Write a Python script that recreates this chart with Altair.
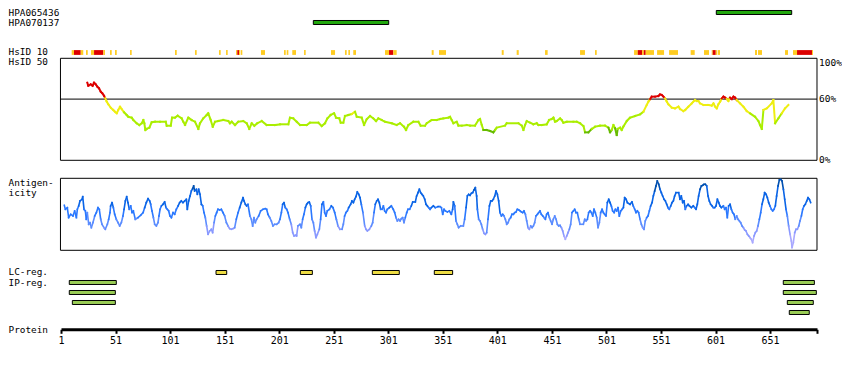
import altair as alt
import pandas as pd

FONT = "DejaVu Sans Mono"
PROTEIN_LEN = 694

# ---------------- data ----------------
tick_values = [1, 51, 101, 151, 201, 251, 301, 351, 401, 451, 501, 551, 601, 651, 694]

antibody_names = ["HPA065436", "HPA070137"]
antibody_start = [601.7, 232.3]
antibody_end = [670.8, 301.4]
antibody_lane = [0, 1]

hs10_start = [10.8, 12.9, 19.1, 23.9, 28.5, 31.3, 39.8, 45.9, 50.5, 64.3, 105.5, 123.8, 145.8, 152.3,
              161.4, 162.6, 164.2, 165.7, 184.3, 205.4, 207.9, 213.0, 223.8, 248.5, 261.3, 264.4, 268.9,
              298.0, 301.7, 305.6, 340.8, 347.5, 405.0, 418.7, 444.7, 476.8, 490.5,
              526.3, 529.7, 533.6, 535.2, 537.0, 547.4, 558.4, 578.2, 590.4,
              597.5, 598.4, 601.2, 603.0, 637.2, 639.9, 664.7, 672.0, 675.7, 689.4]
hs10_end = [12.9, 19.1, 21.4, 25.5, 31.3, 39.8, 41.3, 47.5, 52.1, 65.8, 107.1, 125.4, 147.4, 153.8,
            162.6, 164.2, 165.1, 167.2, 188.0, 207.0, 209.4, 216.4, 225.3, 252.2, 262.9, 265.9, 271.4,
            301.7, 305.6, 308.7, 342.6, 353.9, 406.8, 420.6, 447.1, 481.3, 492.1,
            529.7, 533.6, 535.2, 537.0, 544.6, 553.8, 566.6, 581.9, 595.0,
            598.4, 601.2, 602.4, 605.1, 639.0, 643.6, 667.4, 675.7, 689.4, 690.3]
hs10_level = ["mid", "high", "mid", "mid", "mid", "high", "mid", "mid", "mid", "mid", "mid", "mid", "mid", "mid",
              "mid", "high", "mid", "mid", "mid", "mid", "mid", "mid", "mid", "mid", "mid", "mid", "mid",
              "mid", "high", "mid", "mid", "mid", "mid", "mid", "mid", "mid", "mid",
              "mid", "high", "mid", "high", "mid", "mid", "mid", "mid", "mid",
              "mid", "high", "mid", "mid", "mid", "mid", "mid", "mid", "high", "mid"]

# HsID 50 identity (%) along the protein
id_pos = [25.1, 26.0, 28.2, 30.0, 31.3, 32.8, 34.3, 35.8, 37.4, 38.9, 40.4, 41.6, 42.9, 44.4, 46.6, 48.9, 50.5,
          52.1, 53.5, 55.1, 56.6, 58.8, 61.2, 62.7, 65.8, 67.3, 70.4, 72.8, 75.0, 76.5, 77.4, 78.3, 79.5, 82.0,
          84.1, 87.2, 91.8, 97.0, 97.9, 101.6, 102.8, 105.5, 108.0, 111.6, 113.1, 114.7, 117.7, 120.8, 123.8,
          126.9, 128.4, 131.4, 134.6, 136.0, 138.2, 140.1, 142.2, 145.2, 149.8, 154.4, 155.9, 157.5, 160.5,
          163.5, 168.1, 171.2, 173.6, 175.8, 178.2, 180.9, 185.0, 189.5, 197.2, 201.8, 209.4, 210.9, 213.9,
          217.1, 220.1, 226.2, 229.2, 236.9, 240.0, 243.0, 245.2, 248.2, 251.3, 253.1, 256.1, 257.4, 259.8,
          261.3, 264.4, 267.5, 270.5, 272.1, 276.6, 278.8, 281.2, 284.3, 287.3, 289.8, 291.9, 295.0, 298.0,
          304.2, 308.7, 311.8, 315.4, 317.3, 319.4, 324.0, 328.6, 330.7, 334.7,
          336.2, 339.3, 340.8, 345.4, 348.5, 351.5, 356.1, 357.6, 359.1, 360.7, 363.7, 365.3, 368.3, 372.9,
          376.0, 380.5, 383.6, 385.1, 386.7, 388.2, 391.2, 394.3, 397.3, 398.9, 400.4, 408.0, 409.6, 420.3,
          423.3, 424.9, 426.4, 427.9, 431.0, 434.0, 437.1, 438.6, 441.7, 446.2, 448.4, 450.8, 452.4, 453.9,
          455.4, 458.5, 460.0, 461.5, 464.6, 470.7, 473.7, 476.8, 479.9, 481.4, 484.4, 487.5, 490.6, 495.1,
          499.7, 502.8, 504.3, 505.8, 507.4, 508.9, 510.4, 511.3, 513.5, 515.0, 516.5, 519.6, 522.6, 527.2,
          531.8, 534.9, 537.9, 539.5, 541.0, 542.5, 545.6, 548.6, 550.1, 551.7, 553.2, 554.7, 556.3, 557.8,
          560.9, 563.9, 567.0, 568.5, 571.5, 573.1, 576.1, 579.2, 580.7, 582.2, 583.8, 585.3, 586.8, 589.9,
          594.5, 597.5, 599.1, 600.6, 602.1, 603.6, 605.2, 606.7, 608.2, 609.7, 611.3, 612.8, 614.3, 615.9,
          617.4, 618.9, 620.4, 623.5, 626.5, 629.6, 632.7, 637.2, 640.3, 641.8, 643.4, 644.9, 648.0, 652.5,
          654.0, 655.6, 658.6, 661.7, 664.7, 667.8]
id_val = [76.1, 73.1, 74.5, 73.1, 76.1, 74.5, 72.2, 70.6, 67.3, 65.7, 63.3, 60.8, 57.5, 54.9, 51.6, 49.3, 47.6,
          46.1, 49.3, 52.5, 50.3, 47.1, 44.4, 42.7, 41.8, 39.5, 36.3, 34.6, 36.3, 39.5, 36.3, 29.7, 30.7, 32.0,
          37.3, 37.8, 37.8, 37.8, 33.9, 33.9, 41.8, 41.8, 43.7, 41.1, 37.8, 34.6, 41.8, 39.5, 37.8,
          30.7, 36.3, 41.1, 44.4, 46.1, 39.5, 32.9, 37.8, 38.5, 39.5, 38.5, 36.3, 37.8, 34.6,
          37.8, 38.5, 36.3, 30.7, 36.3, 33.9, 36.3, 38.5, 34.6, 34.6, 35.3, 35.3, 41.8, 41.1,
          37.8, 34.6, 34.6, 36.9, 36.9, 33.6, 36.3, 41.1, 44.4, 46.1, 41.8, 41.1, 36.9, 36.9,
          43.4, 44.4, 45.4, 47.6, 42.7, 41.8, 34.6, 40.2, 43.4, 41.1, 38.5, 41.1, 39.5, 37.8,
          36.3, 34.6, 36.3, 32.9, 29.7, 34.6, 37.8, 37.8, 33.9, 33.9,
          36.3, 38.5, 39.5, 39.5, 40.5, 41.1, 41.8, 42.7, 39.5, 36.3, 37.8, 34.0, 34.0, 34.6,
          34.0, 34.0, 39.5, 40.5, 34.6, 29.7, 29.7, 28.7, 27.4, 29.7, 32.0, 34.0, 36.3, 36.3,
          34.0, 29.7, 34.6, 38.5, 36.9, 35.3, 36.3, 34.6, 34.6, 35.3, 39.5, 40.5, 41.8, 37.8,
          38.5, 41.1, 39.5, 36.9, 37.8, 37.8, 37.8, 36.3, 33.6, 27.4, 27.4, 30.7, 33.0, 34.0,
          34.0, 32.0, 27.4, 29.7, 34.6, 31.4, 24.8, 30.7, 32.0, 29.7, 33.0, 38.5, 41.8, 43.4,
          45.0, 47.6, 54.2, 57.5, 60.1, 62.4, 62.4, 63.0, 64.6, 64.0, 62.4, 60.7, 57.5, 54.9,
          51.6, 50.9, 52.6, 50.3, 48.3, 49.3, 52.6, 55.8, 57.5, 59.1, 58.1, 58.1, 55.8, 54.2,
          54.2, 53.6, 55.8, 52.6, 50.9, 54.9, 57.5, 60.7, 62.4, 61.4, 60.1, 58.1, 61.4, 60.1,
          62.4, 61.4, 59.1, 55.8, 52.6, 48.3, 46.0, 42.7, 38.5, 34.6, 30.7, 49.3, 50.9, 55.8,
          59.1, 36.3, 41.1, 46.0, 50.9, 54.2]

# Antigenicity profile (relative units, 0 = bottom of panel)
ag_pos = [4, 5, 6.8, 8, 9.9, 12, 13.5, 15.1, 16, 17.2, 18.4, 20.3, 20.9, 22.1, 23.3, 24.2, 25.1, 26.4, 27.6,
          28.8, 30.3, 31.9, 33.4, 34.9, 36.1, 37.4, 38.6, 40.4, 41.6, 43.5, 44.7, 45.9, 46.5, 47.8, 49, 50.2,
          51.7, 53.3, 54.8, 56.3, 57.8, 58.8, 60, 61.2, 62.4, 63.6, 64.9, 66.1, 67.3, 69.1, 71.6, 74, 76.2,
          77.7, 79.2, 80.8, 82.3, 83.2, 84.4, 85.7, 86.9, 88.4, 89.9, 90.8, 91.8, 93, 94.5, 96, 97.3, 98.5,
          99.7, 100.9, 102.2, 103.7, 105.2, 106.7, 108.3, 109.8, 111.3, 112.8, 114.4, 115.9, 116.8, 118,
          119.3, 120.5, 121.7, 122.6, 123.5, 125.1, 126, 127.2, 128.4, 129.7, 130.9, 132.1, 133.3, 134.5,
          135.8, 137.3, 138.8, 140, 141.3, 142.5, 143.7, 144.9, 146.5, 148, 149.5, 151, 152.6, 154.1, 155.6,
          157.2, 158.7, 160.2, 161.7, 163.3, 164.8, 166.3, 167.9, 168.8, 170, 171.2, 172.4,
          174.2, 175.5, 176.7, 177.9, 179.1, 180.3, 182.2, 184, 186.2, 188.3, 189.5, 190.7, 192.3, 193.8,
          195.3, 196.8, 198.7, 200.5, 201.7, 203, 204.2, 205.4, 206.6, 207.9, 209.1, 210.6, 212.1, 213.4,
          214.6, 215.8, 217, 218.2, 220.1, 221.3, 222.5, 223.7, 225, 226.2, 227.4, 228.6, 229.9, 231.1,
          232.3, 233.5, 234.7, 236, 237.8, 239, 240.2, 241.5, 242.7, 243.9, 245.1, 247, 248.8, 250.3, 251.9,
          253.4, 254.9, 256.7, 258.6, 259.8, 261, 262.2, 263.5, 264.7, 266.5, 267.7, 269, 270.2, 271.4,
          272.6, 273.9, 275.1, 276.3, 277.8, 279.4, 280.6, 281.8, 283.6, 285.5, 286.7, 287.9, 289.1, 290.4,
          291.6, 292.8, 294, 295.3, 296.5, 297.7, 298.9, 300.1, 302, 303.8, 305.6, 306.9, 308.1, 309.3,
          310.5, 311.8, 313, 314.2, 315.4, 316.6, 317.9, 319.1, 320.6, 322.1, 323.4, 325.8, 327, 328.3,
          329.5, 330.7, 331.9, 333.1, 334.4, 335.6, 336.8, 338, 339.3, 340.5, 342.3, 344.1, 346.6,
          348.4, 349.7, 350.9, 352.1, 353.3, 355.2, 357, 358.8, 360, 360.7, 361.9, 363.1, 364.3, 365.5,
          367.4, 369.8, 371, 372.3, 373.5, 374.7, 375.9, 377.2, 378.4, 379.6, 380.8, 382, 382.7, 383.9,
          385.1, 386.3, 387.5, 388.8, 390, 391.2, 392.4, 393.7, 394.9, 396.1, 397.3, 398.6, 399.8, 401,
          402.2, 403.4, 404.7, 405.9, 407.1, 408.3, 409.6, 410.8, 412, 413.2, 414.4, 415.7, 416.9, 418.1,
          419.3, 420.6, 421.8, 423, 424.2, 425.4, 426.7, 427.9, 429.1, 430.3, 431.6, 432.8, 434, 435.2,
          436.4, 437.7, 438.9, 440.1, 441.3, 442.6, 443.8, 445, 446.2, 447.4, 448.7, 449.9, 451.1, 452.3,
          453.6, 454.8, 456, 457.2, 458.4, 459.7, 460.9, 462.1, 463.3, 464.6, 465.8, 467, 468.2, 469.4,
          470.7, 471.9, 473.1, 474.3, 475.6, 476.8, 479.8, 481.1, 482.3, 483.5, 484.7, 486, 487.2, 488.4,
          489.6, 490.8, 492.1, 493.3, 494.5, 495.7, 497, 498.2, 499.4, 500.6, 501.8, 503.1, 504.3, 505.5,
          506.7, 508, 509.2, 510.4, 511.6, 512.8, 514.1, 515.3, 516.5, 517.7, 519, 520.2,
          522.6, 524.4, 525.6, 526.9, 528.1, 529.3, 530.5, 531.8, 533, 534.2, 535.4, 536.6, 537.9, 539.1,
          540.3, 541.5, 542.8, 544, 545.2, 546.4, 547.6, 548.9, 550.1, 551.3, 552.5, 553.8, 555, 556.2,
          557.4, 558.6, 559.9, 561.1, 562.3, 563.5, 564.8, 567.2, 568.4, 569.6, 570.9, 572.1, 573.3, 574.5,
          575.8, 577, 578.8, 580.6, 581.9, 583.1, 584.3, 585.5, 586.8, 588, 589.2, 590.4, 591.6, 592.9,
          594.1, 595.3, 596.5, 597.8, 599, 600.2, 601.4, 602.7, 603.9, 605.1, 606.3, 608.2, 609.4, 610.6,
          611.8, 613, 614.3, 615.5, 616.7, 617.9, 619.1, 620.4, 621.6, 622.8, 624, 625.3, 626.5, 627.7,
          628.9, 630.2, 631.4, 632.6, 633.8, 635, 636.3, 637.5, 638.7, 639.9, 641.2, 642.4, 643.6, 644.8,
          646, 647.3, 648.5, 649.7, 650.9, 652.2, 653.4, 654.6, 655.8, 657, 658.3, 659.5, 660.7, 661.9,
          663.2, 664.4, 665.6, 666.8, 668, 669.3, 670.5, 671.1, 672.3, 673.6, 674.8, 676, 677.3, 678.4,
          679.7, 680.9, 682.1, 683.3, 684.6, 685.8, 687, 688.2]
ag_val = [67.5, 61.5, 64, 49, 54, 51.5, 59, 49, 61.5, 66.5, 74, 76.5, 80.5, 61.5, 59, 46.5, 56.5, 39, 41.5,
          34, 41.5, 51.5, 56.5, 64, 61.5, 46.5, 39, 34, 31.5, 39, 46.5, 56.5, 66.5, 71.5, 64, 54,
          46.5, 41.5, 36.5, 41.5, 51.5, 61.5, 74, 80.5, 71.5, 61.5, 66.5, 56.5, 59, 46.5, 49, 52.5, 56.5,
          64, 71.5, 77.5, 74, 69, 59, 49, 39, 36.5, 41.5, 51.5, 61.5, 66.5, 69, 72.5, 64, 61.5,
          59, 51.5, 49, 56.5, 54, 61.5, 66.5, 71.5, 74, 71.5, 74, 76.5, 61.5, 74,
          81.5, 89, 92.5, 96.5, 89, 91.5, 84, 91.5, 84, 69, 66.5, 56.5, 49, 36.5,
          24, 29, 31.5, 26.5, 41.5, 51.5, 56.5, 61.5, 60.5, 61.5, 56.5, 51.5, 41.5, 36.5, 32.5,
          31.5, 32.5, 34, 46.5, 56.5, 64, 71.5, 79, 74, 69, 66.5, 69,
          51.5, 46.5, 36.5, 49, 41.5, 46.5, 51.5, 59, 61.5, 62.5, 61.5, 54, 49, 44,
          36.5, 39, 39, 41.5, 46.5, 56.5, 69, 71.5, 64, 61.5, 56.5, 46.5, 39, 26.5,
          21.5, 22.5, 21.5, 36.5, 39, 34, 46.5, 54, 64, 69, 71.5, 72.5, 66.5, 46.5,
          41.5, 29, 19, 24, 31.5, 46.5, 69, 72.5, 56.5, 51.5, 59, 61.5, 66.5, 64, 56.5,
          46.5, 36.5, 31.5, 31.5, 39, 51.5, 56.5, 59, 64, 69, 74, 71.5, 76.5, 80.5,
          87.5, 84, 79, 69, 56.5, 36.5, 31.5, 29, 31.5, 36.5, 41.5, 56.5, 69, 74,
          76.5, 71.5, 61.5, 61.5, 66.5, 59, 56.5, 61.5, 64, 66.5, 61.5, 56.5, 49, 44,
          46.5, 44, 47.5, 49, 41.5, 49, 56.5, 61.5, 61.5, 66.5, 72.5, 72.5, 81.5, 86.5,
          91.5, 86.5, 84, 81.5, 76.5, 69, 66.5, 64, 61.5, 64, 66.5, 64, 65.5,
          65.5, 64, 54, 61.5, 59, 57.5, 59, 54, 61.5, 72.5, 66.5, 44, 39, 34,
          36.5, 36.5, 46.5, 64, 81.5, 84, 82.5, 85.5, 86.5, 90.5, 94, 81.5, 61.5, 46.5,
          44, 39, 31.5, 25.5, 24, 26.5, 46.5, 66.5, 74, 74, 76.5, 81.5, 89, 84,
          74, 56.5, 51.5, 54, 51.5, 46.5, 39, 41.5, 46.5, 49, 54, 54, 56.5, 57.5,
          61.5, 60.5, 59, 57.5, 56.5, 59, 54, 44, 34, 31.5, 36.5, 34, 36.5, 41.5,
          51.5, 54, 56.5, 59, 54, 51.5, 49, 46.5, 54, 56.5, 49, 44, 39, 46.5,
          51.5, 46.5, 39, 36.5, 37.5, 34, 29, 21.5, 16.5, 21.5, 26.5, 31.5, 39, 56.5,
          59, 61.5, 56.5, 56.5, 46.5, 39, 39, 46.5, 44, 46.5, 56.5, 59, 56.5, 51.5,
          61.5, 56.5, 49, 34, 41.5, 56.5, 61.5, 56.5, 54, 51.5, 71.5, 76.5, 71.5, 66.5,
          59, 56.5, 61.5, 59, 64, 51.5, 59, 61.5, 64, 79, 76.5, 71.5,
          69, 72.5, 66.5, 61.5, 56.5, 59, 56.5, 46.5, 39, 34, 31.5, 44, 49, 51.5,
          59, 66.5, 71.5, 81.5, 89, 96.5, 104, 99, 91.5, 86.5, 81.5, 76.5, 74, 69,
          64, 61.5, 66.5, 71.5, 74, 81.5, 86.5, 86.5, 76.5, 81.5, 71.5, 74, 61.5, 66.5,
          69, 66.5, 64, 66.5, 64, 61.5, 69, 81.5, 91.5, 96.5, 97.5, 99, 99, 96.5,
          81.5, 74, 69, 66.5, 64, 64, 66.5, 76.5, 71.5, 66.5, 64, 66.5, 61.5, 64,
          49, 66.5, 69, 61.5, 56.5, 54, 46.5, 51.5, 46.5, 44, 41.5, 36.5, 34, 30.5,
          29, 24, 21.5, 19, 16.5, 11.5, 21.5, 26.5, 29, 36.5, 46.5, 56.5, 69, 76.5,
          86.5, 84, 79, 71.5, 66.5, 61.5, 59, 61.5, 66.5, 81.5, 96.5, 105.5, 106.5, 104,
          91.5, 76.5, 61.5, 51.5, 36.5, 24, 14, 4, 11.5, 26.5, 31.5, 31.5, 36.5, 44,
          51.5, 61.5, 66.5, 69, 74, 79, 76.5, 71.5]

lc_start = [143.1, 220.4, 286.4, 343.2]
lc_end = [152.9, 231.4, 311.1, 360.0]

ip_start = [8.6, 8.6, 11.4, 663.1, 663.1, 666.8, 668.6]
ip_end = [51.7, 50.8, 50.8, 691.6, 693.4, 690.6, 686.9]
ip_row = [1, 2, 3, 1, 2, 3, 4]

track_labels = ["HPA065436", "HPA070137", "HsID 10", "HsID 50", "Antigen-", "icity", "LC-reg.", "IP-reg.", "Protein"]
track_label_lane = [0.08, 1.02, 4, 5, 17.05, 18.1, 26, 27.02, 31.75]

pct_values = [100, 60, 0]
pct_text = ["100%", "60%", "0%"]

# ---------------- scales ----------------
xs = alt.Scale(domain=[1, PROTEIN_LEN], nice=False, zero=False)
xaxis = alt.Axis(values=tick_values, labelExpr="datum.value == 694 ? '' : datum.label", title=None,
                 domainWidth=3, domainColor="black", tickWidth=2, tickSize=4, tickColor="black",
                 labelFont=FONT, labelFontSize=10, labelColor="black", labelPadding=2, grid=False,
                 labelOverlap=False, labelFlush=False)
lane_scale = alt.Scale(domain=[0, 36], range=[4.5, 364.5], nice=False, zero=False)
id_scale = alt.Scale(domain=[0, 100], range=[152.3, 50.3], nice=False, zero=False)
ag_scale = alt.Scale(domain=[0, 108], range=[242.3, 170.3], nice=False, zero=False)


def X(f):
    return alt.X(f, type="quantitative", scale=xs, axis=xaxis)


def lane_rects(df, half, **mark):
    return alt.Chart(df).transform_calculate(
        lo=f"datum.lane - {half}", hi=f"datum.lane + {half}"
    ).mark_rect(**mark).encode(
        x=X("s"), x2="e", y=alt.Y("lo:Q", scale=lane_scale, axis=None), y2="hi:Q")


ab_df = pd.DataFrame({"s": antibody_start, "e": antibody_end, "lane": antibody_lane, "name": antibody_names})
ab_layer = lane_rects(ab_df, 0.2, fill="#22a80e", stroke="black", strokeWidth=1)

hs_df = pd.DataFrame({"s": hs10_start, "e": hs10_end, "lvl": hs10_level, "lane": [4] * len(hs10_start)})
hs_layer = lane_rects(hs_df, 0.24).encode(
    color=alt.Color("lvl:N", scale=alt.Scale(domain=["mid", "high"], range=["#ffcc22", "#dd0000"]), legend=None))

lc_df = pd.DataFrame({"s": lc_start, "e": lc_end, "lane": [26] * len(lc_start)})
lc_layer = lane_rects(lc_df, 0.2, fill="#eedd44", stroke="black", strokeWidth=1)

ip_df = pd.DataFrame({"s": ip_start, "e": ip_end, "lane": [26 + r for r in ip_row]})
ip_layer = lane_rects(ip_df, 0.2, fill="#99cc55", stroke="black", strokeWidth=1)

id_frame = alt.Chart(pd.DataFrame({"s": [0.5], "e": [PROTEIN_LEN], "v": [0], "v2": [100]})).mark_rect(
    fillOpacity=0, stroke="black", strokeWidth=1).encode(
    x=X("s"), x2="e", y=alt.Y("v:Q", scale=id_scale, axis=None), y2="v2")

rule60 = alt.Chart(pd.DataFrame({"s": [0.5], "e": [PROTEIN_LEN], "v": [60]})).mark_rule(
    color="black", strokeWidth=1).encode(x=X("s"), x2="e", y=alt.Y("v:Q", scale=id_scale, axis=None))

id_df = pd.DataFrame({"r": id_pos, "v": id_val})
id_df["r2"] = id_df["r"].shift(-1)
id_df["v2"] = id_df["v"].shift(-1)
id_df = id_df.dropna()
id_df["m"] = (id_df["v"] + id_df["v2"]) / 2
id_layer = alt.Chart(id_df).mark_rule(strokeWidth=2, strokeCap="square").encode(
    x=X("r"), x2="r2", y=alt.Y("v:Q", scale=id_scale, axis=None), y2="v2",
    color=alt.Color("m:Q", scale=alt.Scale(type="threshold", domain=[30, 46.5, 60],
                                           range=["#66bb00", "#aaee00", "#eeee11", "#dd0000"]), legend=None))

pct_df = pd.DataFrame({"p": pct_values, "t": pct_text})
pct_top = alt.Chart(pct_df.iloc[:1]).mark_text(align="left", baseline="top", font=FONT, fontSize=9.5,
                                               color="black", dy=0).encode(
    x=alt.value(758), y=alt.Y("p:Q", scale=id_scale, axis=None), text="t:N")
pct_rest = alt.Chart(pct_df.iloc[1:]).mark_text(align="left", baseline="middle", font=FONT, fontSize=9.5,
                                                color="black").encode(
    x=alt.value(758), y=alt.Y("p:Q", scale=id_scale, axis=None), text="t:N")

ag_frame = alt.Chart(pd.DataFrame({"s": [0.5], "e": [PROTEIN_LEN], "v": [0], "v2": [108]})).mark_rect(
    fillOpacity=0, stroke="black", strokeWidth=1).encode(
    x=X("s"), x2="e", y=alt.Y("v:Q", scale=ag_scale, axis=None), y2="v2")

ag_df = pd.DataFrame({"r": ag_pos, "v": ag_val})
ag_df["r2"] = ag_df["r"].shift(-1)
ag_df["v2"] = ag_df["v"].shift(-1)
ag_df = ag_df.dropna()
ag_df["m"] = (ag_df["v"] + ag_df["v2"]) / 2
ag_layer = alt.Chart(ag_df).mark_rule(strokeWidth=1.6, strokeCap="square").encode(
    x=X("r"), x2="r2", y=alt.Y("v:Q", scale=ag_scale, axis=None), y2="v2",
    color=alt.Color("m:Q", scale=alt.Scale(type="threshold", domain=[20, 35, 50, 65, 92],
                                           range=["#a8a8ff", "#8898ff", "#5a8cff", "#2a78ff", "#0a64e6", "#0050b0"]),
                    legend=None))

lbl_df = pd.DataFrame({"t": track_labels, "lane": track_label_lane})
lbl_layer = alt.Chart(lbl_df).mark_text(align="left", baseline="middle", font=FONT, fontSize=9.4,
                                        color="black").encode(
    x=alt.value(-52.5), y=alt.Y("lane:Q", scale=lane_scale, axis=None), text="t:N")

chart = alt.layer(
    id_frame, rule60, id_layer, ag_frame, ag_layer, ab_layer, hs_layer, lc_layer, ip_layer,
    pct_top, pct_rest, lbl_layer
).resolve_scale(y="independent", color="independent").properties(
    width=756, height=321.3,
    autosize=alt.AutoSizeParams(type="none"),
    padding={"left": 53, "top": 0, "right": 25, "bottom": 30},
    background="white",
).configure_view(stroke=None)

chart.save("out.html", embed_options={"renderer": "svg", "actions": False})
